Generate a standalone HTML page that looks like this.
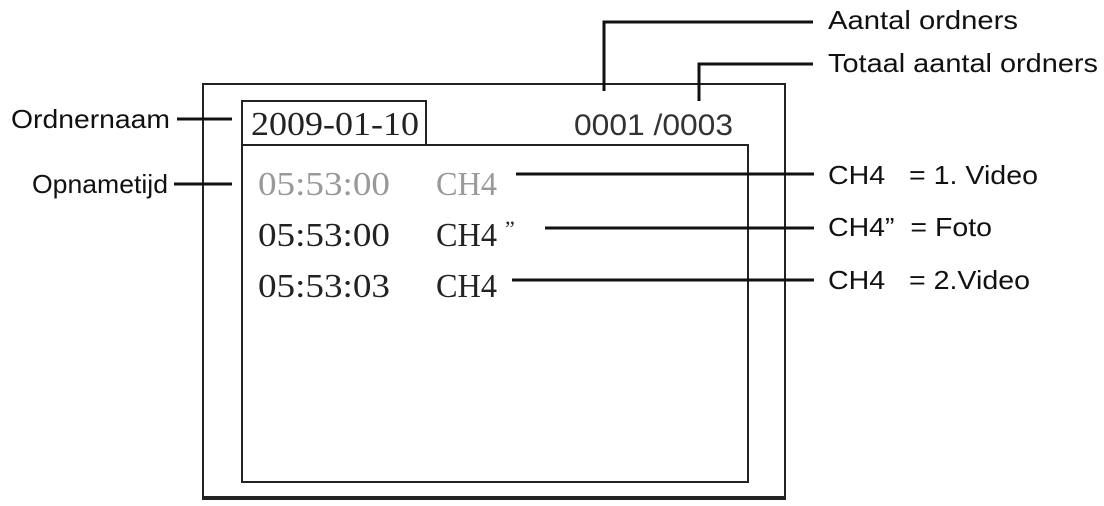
<!DOCTYPE html>
<html><head><style>
body{margin:0;background:#fff;width:1104px;height:506px;overflow:hidden;position:relative}
svg{position:absolute;left:0;top:0}
</style></head><body>
<svg width="1104" height="506" viewBox="0 0 1104 506">
<g fill="none" stroke="#222">
<rect x="203" y="84" width="582" height="414" stroke-width="2"/>
<line x1="202" y1="498" x2="786" y2="498" stroke-width="4"/>
<rect x="242" y="145" width="506" height="337" stroke-width="2"/>
<rect x="242" y="101" width="184" height="44" stroke-width="2"/>
<g stroke-width="3" stroke="#111">
<line x1="177" y1="119" x2="232" y2="119"/>
<line x1="174" y1="184" x2="232" y2="184"/>
<polyline points="604,91 604,22 813,22"/>
<polyline points="699,101 699,64 813,64"/>
<line x1="516" y1="174" x2="814" y2="174"/>
<line x1="545" y1="228" x2="814" y2="228"/>
<line x1="512" y1="280" x2="814" y2="280"/>
</g>
</g>
<g font-family="Liberation Sans, sans-serif" font-size="26" fill="#111">
<text x="170" y="128" text-anchor="end" textLength="159" lengthAdjust="spacingAndGlyphs">Ordnernaam</text>
<text x="168" y="193" text-anchor="end" textLength="136" lengthAdjust="spacingAndGlyphs">Opnametijd</text>
<text x="828" y="29" textLength="190" lengthAdjust="spacingAndGlyphs">Aantal ordners</text>
<text x="828" y="72" textLength="270" lengthAdjust="spacingAndGlyphs">Totaal aantal ordners</text>
<text x="828" y="184" textLength="210" lengthAdjust="spacingAndGlyphs">CH4 &#160; = 1. Video</text>
<text x="828" y="236" textLength="164" lengthAdjust="spacingAndGlyphs">CH4” &#160;= Foto</text>
<text x="828" y="289" textLength="202" lengthAdjust="spacingAndGlyphs">CH4 &#160; = 2.Video</text>
<text x="574" y="135" font-size="30" fill="#333" textLength="159" lengthAdjust="spacingAndGlyphs">0001 /0003</text>
</g>
<g font-family="Liberation Serif, serif" font-size="34">
<text x="251" y="135" fill="#222" textLength="168" lengthAdjust="spacingAndGlyphs">2009-01-10</text>
<text x="258" y="195" fill="#999" textLength="132" lengthAdjust="spacingAndGlyphs">05:53:00</text>
<text x="436" y="195" fill="#999" textLength="61" lengthAdjust="spacingAndGlyphs">CH4</text>
<text x="258" y="246" fill="#222" textLength="132" lengthAdjust="spacingAndGlyphs">05:53:00</text>
<text x="436" y="246" fill="#222" textLength="61" lengthAdjust="spacingAndGlyphs">CH4</text>
<text x="505" y="236" fill="#222" font-size="22">”</text>
<text x="258" y="297" fill="#222" textLength="132" lengthAdjust="spacingAndGlyphs">05:53:03</text>
<text x="436" y="297" fill="#222" textLength="61" lengthAdjust="spacingAndGlyphs">CH4</text>
</g>
</svg>
</body></html>
